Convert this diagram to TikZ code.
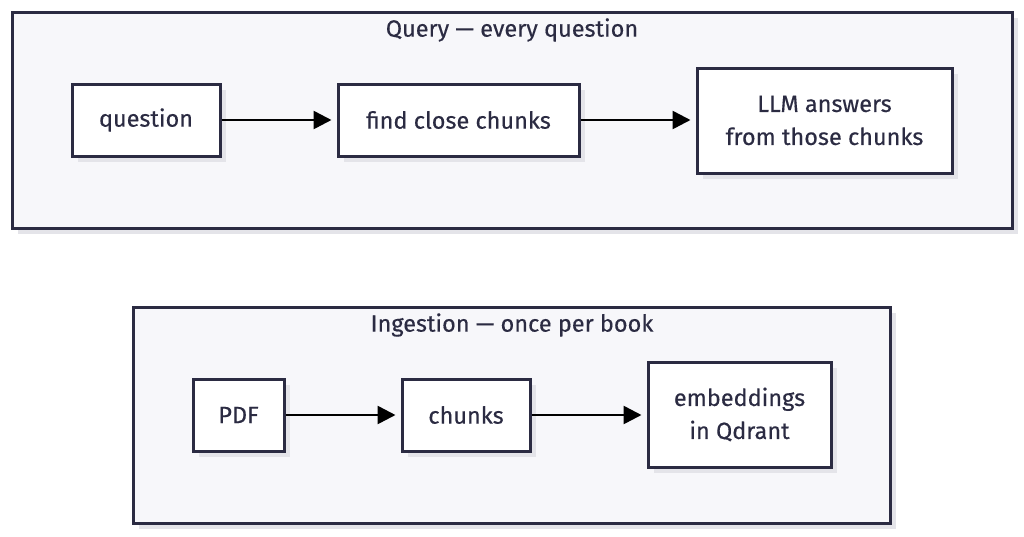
\documentclass[tikz,border=0pt]{standalone}
\usepackage{fontspec}
\setmainfont{Fira Sans}[UprightFeatures={FakeBold=0.35}]
\usetikzlibrary{arrows.meta,positioning}
\definecolor{ink}{HTML}{2B2B42}
\definecolor{clfill}{HTML}{F7F7FA}
\definecolor{shad}{HTML}{E4E4E9}
\tikzset{
  shadowed/.style={preaction={fill=shad, transform canvas={shift={(6pt,-6pt)}}}},
  cluster/.style={draw=ink, line width=3pt, fill=clfill, shadowed},
  procbox/.style={draw=ink, line width=3pt, fill=white, shadowed, inner sep=0pt,
    text=ink, align=center, font=\fontsize{23.5}{33}\selectfont},
  ctitle/.style={text=ink, font=\fontsize{23.5}{28}\selectfont, inner sep=0pt},
  flow/.style={draw=black, line width=2.6pt, -{Triangle[length=18pt,width=18pt]}, shorten >=5pt}
}
\begin{document}
\begin{tikzpicture}[x=1pt,y=-1pt]
\useasboundingbox (0,0) rectangle (1024,536);
% clusters
\draw[cluster] (12,12) rectangle (1012,228);
\node[ctitle] (qt) at (512,30) {Query — every question};
\draw[cluster] (133,307) rectangle (890,523);
\node[ctitle] (it) at (512,325) {Ingestion — once per book};
% query nodes
\node[procbox, minimum width=148pt, minimum height=72pt] (q) at (146,120) {question};
\node[procbox, minimum width=241pt, minimum height=72pt] (f) at (458.5,120) {find close chunks};
\node[procbox, minimum width=255pt, minimum height=105pt] (l) at (824.5,120.5) {LLM answers\\from those chunks};
% ingestion nodes
\node[procbox, minimum width=91pt, minimum height=72pt] (p) at (238.5,415) {PDF};
\node[procbox, minimum width=128pt, minimum height=72pt] (c) at (466,415) {chunks};
\node[procbox, minimum width=183pt, minimum height=105pt] (e) at (739.5,414.5) {embeddings\\in Qdrant};
% arrows
\draw[flow] (q) -- (f);
\draw[flow] (f) -- (f -| l.west);
\draw[flow] (p) -- (c);
\draw[flow] (c) -- (c -| e.west);
\end{tikzpicture}
\end{document}
